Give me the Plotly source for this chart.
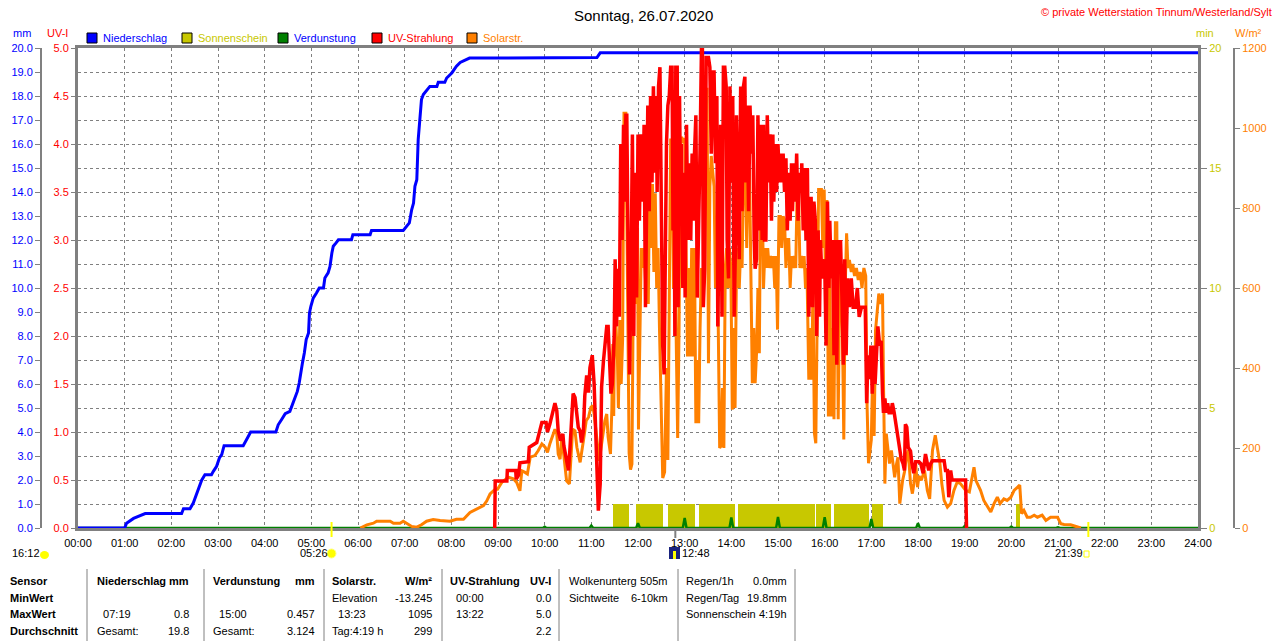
import plotly.graph_objects as go

W_PX, H_PX = 1280, 641
FONT = "Liberation Sans, Arial, sans-serif"

# Niederschlag, kumuliert [mm]
rain_t = [0, 1.0, 1.04, 1.19, 1.44, 2.22, 2.26, 2.4, 2.47, 2.54, 2.58, 2.65, 2.72, 2.86, 2.9,
          2.97, 3.03, 3.08, 3.13, 3.54, 3.61, 3.7, 4.24, 4.29, 4.36, 4.44, 4.54, 4.58, 4.65, 4.7,
          4.74, 4.77, 4.81, 4.85, 4.89, 4.94, 4.96, 4.99, 5.04, 5.11, 5.17, 5.26, 5.29, 5.36, 5.4,
          5.44, 5.47, 5.53, 5.58, 5.86, 5.89, 6.26, 6.29, 6.97, 7.04, 7.1, 7.15, 7.19, 7.22, 7.26,
          7.29, 7.33, 7.36, 7.4, 7.45, 7.54, 7.69, 7.72, 7.86, 7.9, 8.01, 8.11, 8.19, 8.33, 8.39,
          11.12, 11.19, 24]
rain_mm = [0, 0, 0.2, 0.4, 0.6, 0.6, 0.8, 0.8, 1.04, 1.43, 1.67, 1.99, 2.22, 2.22, 2.36,
           2.57, 2.92, 3.06, 3.43, 3.43, 3.68, 4.0, 4.0, 4.3, 4.51, 4.76, 4.86, 5.07, 5.49, 5.69,
           6.04, 6.46, 6.88, 7.29, 7.85, 8.13, 8.96, 9.24, 9.58, 9.79, 10.0, 10.0, 10.42, 10.63, 10.9,
           11.46, 11.74, 11.88, 12.01, 12.01, 12.22, 12.22, 12.4, 12.4, 12.57, 12.71, 13.26, 13.54, 14.24, 14.51,
           16.18, 17.15, 17.85, 18.06, 18.19, 18.4, 18.4, 18.57, 18.57, 18.75, 18.96, 19.24, 19.4, 19.51, 19.58,
           19.6, 19.8, 19.8]

# Verdunstung je Stunde [mm]
evap_h = [1, 2, 3, 4, 5, 6, 7, 8, 9, 10, 11, 12, 13, 14, 15, 16, 17, 18, 19, 20, 21, 22, 23]
evap_mm = [0.02, 0.02, 0.03, 0.03, 0.02, 0.02, 0.02, 0.02, 0.03, 0.05, 0.1, 0.2, 0.42, 0.44,
           0.46, 0.45, 0.38, 0.2, 0.08, 0.06, 0.03, 0.03, 0.02]

# Sonnenschein [min]
sun_start = [11.47, 11.96, 12.64, 13.31, 14.14, 15.81, 16.20, 17.01, 20.11]
sun_end = [11.81, 12.54, 13.22, 14.08, 15.79, 16.14, 16.95, 17.25, 20.19]
sun_min = [1, 1, 1, 1, 1, 1, 1, 1, 1]

# Solarstrahlung [W/m2]
solar_t = [6.05, 6.08, 6.19, 6.33, 6.4, 6.69, 6.76, 6.9, 6.97, 7.04, 7.15, 7.26, 7.36, 7.47,
           7.61, 7.76, 7.97, 8.11, 8.26, 8.4, 8.54, 8.69, 8.76, 8.83, 8.94, 8.99, 9.08, 9.22, 9.33,
           9.4, 9.47, 9.51, 9.58, 9.63, 9.69, 9.79, 9.86, 9.94, 10.01, 10.06, 10.11, 10.19, 10.22, 10.26,
           10.29, 10.33, 10.36, 10.4, 10.44, 10.47, 10.53, 10.56, 10.6, 10.65, 10.69, 10.76, 10.79, 10.83, 10.89,
           10.94, 10.99, 11.03, 11.06, 11.09, 11.13, 11.17, 11.22, 11.26, 11.29, 11.33, 11.36,
           11.41, 11.44, 11.46, 11.48, 11.50, 11.53, 11.56, 11.58, 11.61, 11.64, 11.67, 11.70, 11.74, 11.76,
           11.78, 11.81, 11.84, 11.87, 11.90, 11.93, 11.96, 11.99, 12.01, 12.04, 12.07, 12.10, 12.13, 12.16,
           12.19, 12.22, 12.25, 12.28, 12.31, 12.34, 12.37, 12.40, 12.43, 12.46, 12.49, 12.53, 12.57, 12.61,
           12.64, 12.67, 12.70, 12.73, 12.76, 12.79, 12.82, 12.85, 12.88, 12.91, 12.94, 12.97, 13.00, 13.03,
           13.06, 13.09, 13.12, 13.15, 13.18, 13.21, 13.24, 13.27, 13.30, 13.33, 13.36, 13.39, 13.42, 13.45,
           13.48, 13.51, 13.54, 13.57, 13.60, 13.63, 13.66, 13.69, 13.72, 13.75, 13.78, 13.81, 13.84, 13.87,
           13.90, 13.93, 13.96, 13.99, 14.02, 14.05, 14.08, 14.11, 14.14, 14.17, 14.20, 14.23, 14.27, 14.30,
           14.33, 14.36, 14.39, 14.42, 14.45, 14.48, 14.51, 14.54, 14.57, 14.60, 14.63, 14.66, 14.69, 14.72,
           14.75, 14.78, 14.81, 14.84, 14.87, 14.90, 14.93, 14.96, 14.99, 15.02, 15.05, 15.08, 15.11, 15.14,
           15.17, 15.20, 15.23, 15.26, 15.29, 15.32, 15.35, 15.38, 15.41, 15.44, 15.47, 15.50, 15.53, 15.56,
           15.59, 15.62, 15.66, 15.69, 15.72, 15.75, 15.78, 15.81, 15.84, 15.87, 15.90, 15.93, 15.96, 15.99,
           16.02, 16.05, 16.08, 16.11, 16.14, 16.17, 16.20, 16.23, 16.26, 16.29, 16.32, 16.35, 16.38, 16.41,
           16.44, 16.47, 16.50, 16.53, 16.57, 16.60, 16.64, 16.68, 16.72, 16.76, 16.80, 16.84, 16.88, 16.91,
           16.94, 16.97, 17.00,
           17.03, 17.06, 17.09, 17.12, 17.16, 17.2, 17.24, 17.26, 17.29, 17.32, 17.36, 17.39, 17.43, 17.47,
           17.5, 17.54, 17.57, 17.61, 17.64, 17.67, 17.71, 17.75, 17.79, 17.84, 17.88, 17.91, 17.95, 17.99,
           18.02, 18.07, 18.14, 18.2, 18.25, 18.31, 18.37, 18.42, 18.47, 18.51, 18.56, 18.63, 18.7, 18.77,
           18.84, 18.91, 19.02, 19.1, 19.2, 19.24, 19.27, 19.34, 19.41, 19.49, 19.56, 19.63, 19.7, 19.76,
           19.84, 19.91, 19.99, 20.06, 20.13, 20.18, 20.22, 20.27, 20.34, 20.41, 20.49, 20.56, 20.66, 20.74,
           20.84, 20.99, 21.06, 21.13, 21.27, 21.41, 21.49]
solar_w = [0, 2, 8, 12, 17, 17, 12, 12, 17, 12, 4, 2, 8, 17,
           21, 19, 17, 22, 22, 39, 47, 56, 68, 85, 97, 97, 114, 127, 123,
           114, 93, 143, 139, 135, 177, 181, 193, 210, 202, 189, 210, 235, 247, 235,
           185, 172, 218, 193, 143, 118, 110, 185, 247, 243, 202, 164, 185, 218, 268,
           277, 302, 306, 285, 252, 202, 168, 210, 252, 268, 285, 227,
           185, 300, 460, 280, 550, 500, 420, 300, 520, 360, 470, 1037, 1037, 830,
           600, 187, 146, 160, 600, 700, 560, 750, 246, 500, 700, 650, 700, 620,
           720, 560, 888, 700, 860, 640, 837, 600, 700, 500, 300, 125, 140, 400,
           170, 700, 970, 970, 600, 700, 400, 225, 500, 975, 975, 962, 975, 700,
           429, 650, 429, 700, 429, 700, 262, 420, 262, 500, 650, 600, 700, 1097,
           1097, 412, 854, 930, 880, 854, 600, 700, 500, 200, 205, 350, 200, 650,
           700, 600, 700, 650, 296, 500, 300, 650, 700, 600, 700, 650, 958, 920,
           700, 900, 896, 600, 362, 500, 362, 437, 600, 437, 900, 850, 600, 700,
           650, 700, 650, 680, 650, 680, 600, 680, 496, 779, 779, 700, 779, 771,
           650, 721, 721, 600, 680, 650, 680, 650, 846, 846, 650, 680, 650, 680,
           600, 650, 371, 500, 371, 600, 237, 212, 500, 846, 846, 846, 700, 846,
           600, 820, 279, 650, 279, 500, 272, 763, 763, 272, 600, 650, 500, 221,
           600, 737, 650, 670, 640, 660, 630, 650, 620, 640, 600, 650, 630, 300,
           162, 200, 221,
           400, 230, 494, 527, 586, 560, 586, 369, 111, 236, 200, 161, 194, 153,
           127, 160, 177, 61, 90, 119, 140, 177, 194, 111, 86, 110, 161, 102,
           130, 119, 144, 94, 73, 194, 232, 194, 161, 111, 69, 52, 61, 94,
           115, 111, 94, 90, 152, 119, 111, 94, 69, 52, 40, 61, 77, 61,
           73, 69, 77, 94, 102, 107, 36, 44, 27, 27, 32, 27, 32, 19,
           27, 27, 11, 9, 8, 4, 0]

# UV-Strahlung [UV-I]
uv_t = [8.93, 8.94, 9.19, 9.2, 9.38, 9.39, 9.44, 9.47, 9.65, 9.67, 9.83, 9.88, 9.94, 10.03,
        10.06, 10.11, 10.17, 10.22, 10.26, 10.29, 10.34, 10.39, 10.41, 10.46, 10.51, 10.54, 10.58, 10.61, 10.65,
        10.69, 10.72, 10.76, 10.79, 10.83, 10.86, 10.9, 10.94, 10.97, 11.02, 11.06, 11.09, 11.13, 11.15, 11.19,
        11.22, 11.26, 11.29, 11.33, 11.36, 11.39, 11.42, 11.45, 11.47,
        11.49, 11.51, 11.54, 11.57, 11.60, 11.63, 11.66, 11.69, 11.71, 11.74, 11.76, 11.79, 11.82, 11.85,
        11.88, 11.91, 11.93, 11.95, 11.97, 12.00, 12.03, 12.06, 12.09, 12.11, 12.13, 12.16, 12.19, 12.21,
        12.24, 12.27, 12.30, 12.33, 12.36, 12.39, 12.41, 12.44, 12.47, 12.50, 12.53, 12.56, 12.59, 12.61,
        12.64, 12.67, 12.70, 12.73, 12.75, 12.77, 12.79, 12.81, 12.84, 12.86, 12.89, 12.91, 12.93, 12.96,
        12.99, 13.01, 13.04, 13.07, 13.10, 13.13, 13.16, 13.19, 13.21, 13.24, 13.27, 13.30, 13.33, 13.36,
        13.38, 13.40, 13.43, 13.46, 13.49, 13.51, 13.54, 13.57, 13.60, 13.63, 13.66, 13.69, 13.71, 13.74,
        13.77, 13.80, 13.83, 13.86, 13.89, 13.91, 13.94, 13.97, 14.00, 14.03, 14.06, 14.09, 14.11, 14.14,
        14.17, 14.20, 14.23, 14.26, 14.29, 14.31, 14.34, 14.37, 14.40, 14.43, 14.46, 14.49, 14.51, 14.54,
        14.57, 14.60, 14.63, 14.66, 14.69, 14.71, 14.74, 14.77, 14.80, 14.83, 14.86, 14.89, 14.91, 14.94,
        14.97, 15.00, 15.03, 15.06, 15.09, 15.11, 15.14, 15.17, 15.20, 15.23, 15.26, 15.29, 15.31, 15.34,
        15.37, 15.40, 15.43, 15.46, 15.49, 15.51, 15.54, 15.57, 15.60, 15.63, 15.66, 15.69, 15.71, 15.74,
        15.77, 15.80, 15.83, 15.86, 15.89, 15.91, 15.94, 15.97, 16.00, 16.03, 16.06, 16.09, 16.11, 16.14,
        16.17, 16.20, 16.23, 16.26, 16.29, 16.31, 16.34, 16.37, 16.40, 16.43, 16.46, 16.49, 16.53, 16.57,
        16.61, 16.66, 16.70, 16.74, 16.79, 16.83, 16.87,
        16.90, 16.93, 16.96, 16.99, 17.02, 17.05, 17.08, 17.11, 17.14, 17.18, 17.21, 17.24, 17.26, 17.29,
        17.32, 17.35, 17.38, 17.42, 17.45, 17.49, 17.52, 17.55, 17.59, 17.61, 17.64, 17.68, 17.71, 17.73,
        17.76, 17.79, 17.84, 17.87, 17.91, 17.95, 18.02, 18.06, 18.11, 18.16, 18.2, 18.23, 18.27, 18.31,
        18.56, 18.59, 18.63, 18.66, 18.7, 18.73, 18.77, 18.99, 19.02, 19.04]
uv_i = [0, 0.49, 0.49, 0.6, 0.6, 0.51, 0.55, 0.68, 0.69, 0.84, 0.89, 1.0, 1.1, 1.1,
        1.0, 1.08, 1.22, 1.3, 1.22, 1.01, 0.91, 0.98, 0.86, 0.72, 0.6, 0.81, 1.26, 1.4, 1.36,
        1.19, 1.05, 1.01, 0.89, 1.01, 1.38, 1.59, 1.41, 1.67, 1.8, 1.5, 1.05, 0.6, 0.18, 0.46,
        1.47, 1.74, 1.95, 2.1, 2.1, 1.8, 1.4, 1.5, 1.7,
        2.0, 2.8, 2.1, 2.7, 2.2, 4.0, 3.0, 4.2, 3.4, 4.3, 4.3, 2.8, 1.6, 2.6,
        4.1, 2.0, 3.7, 3.3, 2.4, 4.1, 3.2, 4.1, 4.0, 3.4, 4.2, 2.3, 4.3, 4.4,
        3.3, 4.5, 3.6, 4.6, 3.7, 4.5, 3.5, 4.6, 4.8, 2.8, 1.9, 1.6, 2.8, 4.0,
        4.4, 4.5, 4.8, 4.8, 3.1, 4.0, 2.0, 4.8, 4.8, 2.3, 4.5, 3.5, 4.0, 2.5,
        3.7, 2.4, 4.2, 3.0, 3.8, 3.0, 3.9, 3.2, 3.9, 4.3, 2.4, 3.1, 3.95, 5.0,
        5.0, 2.3, 2.7, 4.9, 4.9, 4.9, 4.8, 3.9, 4.75, 4.75, 3.8, 4.5, 2.1, 3.2,
        4.2, 2.2, 4.8, 4.8, 4.6, 3.0, 2.6, 4.6, 3.6, 4.5, 2.2, 3.0, 4.3, 3.5,
        2.8, 4.6, 3.3, 4.6, 4.7, 3.6, 4.4, 3.3, 4.4, 3.9, 4.3, 3.0, 2.7, 2.8,
        4.3, 3.1, 4.2, 3.0, 4.2, 3.0, 3.0, 4.3, 3.6, 4.1, 3.2, 4.1, 3.4, 4.0,
        3.5, 4.0, 3.6, 3.9, 3.6, 3.9, 3.5, 3.85, 3.1, 3.7, 3.2, 3.8, 3.3, 3.8,
        3.4, 3.9, 3.2, 3.7, 3.5, 3.8, 3.1, 3.75, 3.0, 3.75, 2.2, 3.0, 3.45, 2.3,
        3.4, 3.2, 2.0, 3.1, 2.2, 3.0, 2.6, 2.7, 2.8, 1.9, 3.4, 2.5, 3.2, 2.6,
        3.0, 1.8, 3.0, 1.7, 3.0, 2.7, 3.0, 2.4, 1.7, 2.8, 1.8, 2.6, 2.3, 2.6,
        2.3, 2.3, 2.5, 2.2, 2.3, 2.3, 2.3,
        1.3, 1.8, 1.55, 1.9, 1.4, 1.9, 1.5, 1.8, 2.1, 1.9, 1.95, 1.4, 1.2, 1.35,
        1.2, 1.3, 1.2, 1.2, 1.3, 1.2, 1.1, 1.05, 0.9, 0.8, 0.72, 0.67, 0.6, 1.08,
        1.05, 0.84, 0.8, 0.67, 0.57, 0.69, 0.69, 0.67, 0.57, 0.77, 0.67, 0.6, 0.67, 0.7,
        0.7, 0.6, 0.6, 0.32, 0.6, 0.5, 0.5, 0.5, 0.5, 0.0]

# Sonnen-/Mondzeiten
moon_label = "16:12"
sunrise_h, sunrise_label = 5 + 26 / 60, "05:26"
noon_h, noon_label = 12 + 48 / 60, "12:48"
sunset_h, sunset_label = 21 + 39 / 60, "21:39"

hours = list(range(25))
hour_text = ["%02d:00" % h for h in hours]

# Tabelle unten
tab_rows = [581, 598, 614, 631]
tab_sensor = ["Sensor", "MinWert", "MaxWert", "Durchschnitt"]
tab_cols = [
    # (x links, x rechts, Zeilen [links, rechts], fett-Kopf)
    (95, 191, [("Niederschlag", "mm"), ("", ""), ("  07:19", "0.8"), ("Gesamt:", "19.8")], True),
    (211, 317, [("Verdunstung", "mm"), ("", ""), ("  15:00", "0.457"), ("Gesamt:", "3.124")], True),
    (330, 434, [("Solarstr.", "W/m²"), ("Elevation", "-13.245"), ("  13:23", "1095"), ("Tag:4:19 h", "299")], True),
    (448, 553, [("UV-Strahlung", "UV-I"), ("  00:00", "0.0"), ("  13:22", "5.0"), ("", "2.2")], True),
    (567, 670, [("Wolkenunterg", "505m"), ("Sichtweite", "6-10km"), ("", ""), ("", "")], False),
    (684, 789, [("Regen/1h", "0.0mm"), ("Regen/Tag", "19.8mm"), ("Sonnenschein", "4:19h"), ("", "")], False),
]
tab_seps = [87, 204, 324, 442, 559, 678, 795]


def fx(x):
    return x / W_PX


def fy(y):
    return (H_PX - y) / H_PX


BLUE = "#0000FF"
YEL = "#C8C800"
GREEN = "#008000"
RED = "#FF0000"
ORANGE = "#FF8000"
GRAY = "#808080"

fig = go.Figure()

# Reihenfolge der Achsen = Zeichenreihenfolge der Ebenen
fig.add_trace(go.Bar(
    x=[(s + e) / 2 for s, e in zip(sun_start, sun_end)], y=sun_min,
    width=[e - s for s, e in zip(sun_start, sun_end)],
    marker=dict(color=YEL, line=dict(width=0)), yaxis="y", name="Sonnenschein"))

ev_x, ev_y = [0], [0]
for h, v in zip(evap_h, evap_mm):
    ev_x += [h - 0.04, h, h + 0.04]
    ev_y += [0, v, 0]
ev_x.append(24)
ev_y.append(0)
fig.add_trace(go.Scatter(x=ev_x, y=ev_y, mode="lines", line=dict(color=GREEN, width=2.5),
                         yaxis="y2", name="Verdunstung"))

fig.add_trace(go.Scatter(x=rain_t, y=rain_mm, mode="lines", line=dict(color=BLUE, width=3),
                         yaxis="y3", name="Niederschlag"))

fig.add_trace(go.Scatter(x=solar_t, y=solar_w, mode="lines", line=dict(color=ORANGE, width=3),
                         yaxis="y4", name="Solarstr."))

fig.add_trace(go.Scatter(x=uv_t, y=uv_i, mode="lines", line=dict(color=RED, width=3.5),
                         yaxis="y5", name="UV-Strahlung"))

tick_font = dict(family=FONT, size=11)
dom_y = [fy(528), fy(48)]

fig.update_layout(
    width=W_PX, height=H_PX, template="none",
    paper_bgcolor="white", plot_bgcolor="white",
    margin=dict(l=0, r=0, t=0, b=0, autoexpand=False),
    showlegend=False, bargap=0,
    font=dict(family=FONT, size=11, color="black"),
    xaxis=dict(domain=[fx(78), fx(1198)], range=[0, 24], tickvals=hours, ticktext=hour_text,
               showgrid=True, gridcolor=GRAY, griddash="3px,3px", gridwidth=1,
               showline=True, linecolor=GRAY, linewidth=3, mirror=True,
               ticks="outside", ticklen=3, tickcolor="rgba(0,0,0,0)",
               tickfont=dict(tick_font, color="black"), zeroline=False, automargin=False),
    # min (Sonnenschein)
    yaxis=dict(domain=dom_y, range=[0, 20], side="right", anchor="x",
               tickvals=[0, 5, 10, 15, 20], tickfont=dict(tick_font, color=YEL),
               ticks="outside", ticklen=6, tickcolor=GRAY,
               showline=True, linecolor=GRAY, linewidth=3, mirror=True,
               showgrid=False, zeroline=False, automargin=False),
    # mm (Verdunstung, Gitter)
    yaxis2=dict(overlaying="y", anchor="free", position=fx(41), side="left", range=[0, 20],
                dtick=1, tickformat=".1f", tickfont=dict(tick_font, color=BLUE),
                ticks="outside", ticklen=5, tickcolor=GRAY, tickwidth=1,
                showline=True, linecolor=GRAY, linewidth=2,
                showgrid=True, gridcolor=GRAY, griddash="3px,3px", gridwidth=1,
                zeroline=False, automargin=False),
    # mm (Niederschlag)
    yaxis3=dict(overlaying="y", range=[0, 20], visible=False),
    # W/m2
    yaxis4=dict(overlaying="y", anchor="free", position=fx(1234), side="right", range=[0, 1200],
                dtick=200, tickfont=dict(tick_font, color=ORANGE),
                ticks="outside", ticklen=5, tickcolor=GRAY,
                showline=True, linecolor=GRAY, linewidth=2,
                showgrid=False, zeroline=False, automargin=False),
    # UV-I
    yaxis5=dict(overlaying="y", anchor="x", side="left", range=[0, 5], dtick=0.5,
                tickformat=".1f", tickfont=dict(tick_font, color=RED),
                ticks="outside", ticklen=6, tickcolor=GRAY,
                showgrid=False, zeroline=False, showline=False, automargin=False),
)

ann = []
shapes = []


def txt(x, y, s, color="black", anchor="left", size=11, bold=False):
    ann.append(dict(x=fx(x), y=fy(y), xref="paper", yref="paper", text="<b>%s</b>" % s if bold else s,
                    showarrow=False, xanchor=anchor, yanchor="middle",
                    font=dict(family=FONT, size=size, color=color)))


# Titel
txt(643, 15, "Sonntag, 26.07.2020", anchor="center", size=15)
txt(1274, 12, "© private Wetterstation Tinnum/Westerland/Sylt", color=RED, anchor="right")

# Achsentitel
txt(22, 33, "mm", color=BLUE, anchor="center")
txt(57, 33, "UV-I", color=RED, anchor="center")
txt(1205, 33, "min", color=YEL, anchor="center")
txt(1248, 33, "W/m²", color=ORANGE, anchor="center")

# Legende
legend_items = [("Niederschlag", BLUE, BLUE, 87), ("Sonnenschein", YEL, YEL, 182),
                ("Verdunstung", GREEN, BLUE, 278), ("UV-Strahlung", RED, RED, 372),
                ("Solarstr.", ORANGE, ORANGE, 467)]
for name, box, tcol, x0 in legend_items:
    shapes.append(dict(type="rect", xref="paper", yref="paper", x0=fx(x0), x1=fx(x0 + 10),
                       y0=fy(43), y1=fy(33), fillcolor=box, line=dict(color="black", width=1)))
    txt(x0 + 14, 38, name, color=tcol)

# Sonnenaufgang / -untergang / Mittag
for h, col in [(sunrise_h, "#FFFF00"), (sunset_h, "#FFFF00")]:
    shapes.append(dict(type="line", xref="x", yref="paper", x0=h, x1=h, y0=fy(537), y1=fy(522),
                       line=dict(color=col, width=2)))
shapes.append(dict(type="line", xref="x", yref="paper", x0=noon_h, x1=noon_h, y0=fy(538), y1=fy(528),
                   line=dict(color=GRAY, width=2)))

txt(10, 553, moon_label)
shapes.append(dict(type="circle", xref="paper", yref="paper", x0=fx(40), x1=fx(49), y0=fy(559), y1=fy(551),
                   fillcolor="#FFFF00", line=dict(width=0)))
txt(298, 553, sunrise_label)
shapes.append(dict(type="circle", xref="paper", yref="paper", x0=fx(327), x1=fx(336), y0=fy(558), y1=fy(549),
                   fillcolor="#FFFF00", line=dict(color="#FFFF80", width=1)))
shapes.append(dict(type="rect", xref="paper", yref="paper", x0=fx(669), x1=fx(680), y0=fy(559), y1=fy(547),
                   fillcolor="#1A237E", line=dict(width=0)))
shapes.append(dict(type="rect", xref="paper", yref="paper", x0=fx(673), x1=fx(676), y0=fy(559), y1=fy(551),
                   fillcolor="#FFFF00", line=dict(width=0)))
txt(680, 553, noon_label)
txt(1053, 553, sunset_label)
shapes.append(dict(type="rect", xref="paper", yref="paper", x0=fx(1084), x1=fx(1089), y0=fy(557), y1=fy(551),
                   fillcolor="white", line=dict(color="#FFFF00", width=1)))

# Tabelle
for y, s in zip(tab_rows, tab_sensor):
    txt(8, y, s, bold=True)
for xl, xr, rows, bold_head in tab_cols:
    for i, (y, (left, right)) in enumerate(zip(tab_rows, rows)):
        b = bold_head and i == 0
        if left:
            txt(xl, y, left, bold=b)
        if right:
            txt(xr, y, right, anchor="right", bold=b)
for x in tab_seps:
    shapes.append(dict(type="line", xref="paper", yref="paper", x0=fx(x), x1=fx(x), y0=fy(569), y1=fy(641),
                       line=dict(color=GRAY, width=1)))

fig.update_layout(annotations=ann, shapes=shapes)

fig.write_html("out.html", config={"displayModeBar": False},
               post_script="document.body.style.margin='0px';")
